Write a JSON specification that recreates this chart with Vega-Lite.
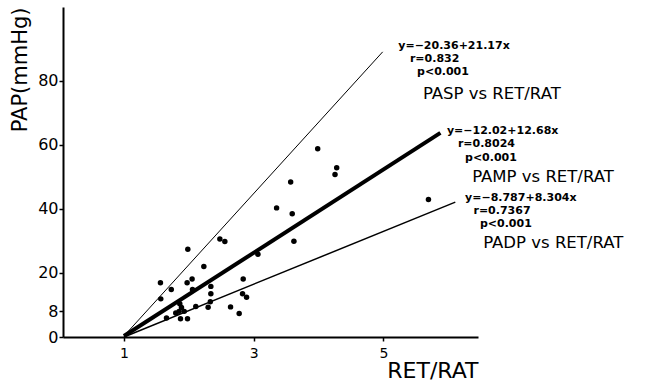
{
  "$schema": "https://vega.github.io/schema/vega-lite/v6.json",
  "autosize": {"type": "none"},
  "padding": {"left": 63, "top": 7, "right": 167, "bottom": 44},
  "width": 415,
  "height": 330,
  "background": "white",
  "config": {
    "view": {"stroke": null},
    "font": "DejaVu Sans",
    "axis": {
      "grid": false,
      "domainColor": "black",
      "domainWidth": 2,
      "tickColor": "black",
      "tickWidth": 1.5,
      "tickSize": 4,
      "labelColor": "black",
      "titleColor": "black",
      "labelFont": "DejaVu Sans",
      "titleFont": "DejaVu Sans",
      "titleFontWeight": "normal"
    }
  },
  "datasets": {
    "points": [
      {"ratio": 1.985, "pap": 27.4}, {"ratio": 2.479, "pap": 30.6}, {"ratio": 2.556, "pap": 29.8},
      {"ratio": 3.621, "pap": 29.9}, {"ratio": 2.232, "pap": 22.0}, {"ratio": 3.066, "pap": 25.8},
      {"ratio": 1.563, "pap": 16.9}, {"ratio": 1.730, "pap": 14.8}, {"ratio": 1.974, "pap": 16.9},
      {"ratio": 2.051, "pap": 18.1}, {"ratio": 2.057, "pap": 14.8}, {"ratio": 2.340, "pap": 15.8},
      {"ratio": 2.839, "pap": 18.1}, {"ratio": 1.568, "pap": 11.9}, {"ratio": 2.340, "pap": 13.5},
      {"ratio": 2.332, "pap": 11.0}, {"ratio": 2.829, "pap": 13.5}, {"ratio": 2.891, "pap": 12.4},
      {"ratio": 1.861, "pap": 10.4}, {"ratio": 1.887, "pap": 9.2}, {"ratio": 1.850, "pap": 8.0},
      {"ratio": 1.930, "pap": 8.0}, {"ratio": 1.799, "pap": 7.5}, {"ratio": 2.108, "pap": 9.5},
      {"ratio": 2.298, "pap": 9.3}, {"ratio": 2.644, "pap": 9.4}, {"ratio": 2.777, "pap": 7.3},
      {"ratio": 1.656, "pap": 5.9}, {"ratio": 1.872, "pap": 5.7}, {"ratio": 1.980, "pap": 5.7},
      {"ratio": 3.571, "pap": 48.4}, {"ratio": 3.354, "pap": 40.3}, {"ratio": 3.595, "pap": 38.5},
      {"ratio": 3.988, "pap": 58.75}, {"ratio": 4.281, "pap": 52.8}, {"ratio": 4.255, "pap": 50.7},
      {"ratio": 5.696, "pap": 42.9}
    ],
    "lines": [
      {"series": "PASP", "ratio": 1.0, "pap": 0.3}, {"series": "PASP", "ratio": 4.99, "pap": 89.0},
      {"series": "PAMP", "ratio": 1.0, "pap": 0.3}, {"series": "PAMP", "ratio": 5.88, "pap": 63.7},
      {"series": "PADP", "ratio": 1.0, "pap": 0.0}, {"series": "PADP", "ratio": 6.11, "pap": 42.1}
    ],
    "notes": [
      {"text": "y=−20.36+21.17x", "ratio": 5.23, "pap": 90.7, "kind": "stat"},
      {"text": "r=0.832", "ratio": 5.41, "pap": 86.7, "kind": "stat"},
      {"text": "p<0.001", "ratio": 5.52, "pap": 82.6, "kind": "stat"},
      {"text": "PASP vs RET/RAT", "ratio": 5.61, "pap": 75.7, "kind": "name"},
      {"text": "y=−12.02+12.68x", "ratio": 5.98, "pap": 64.2, "kind": "stat"},
      {"text": "r=0.8024", "ratio": 6.15, "pap": 60.1, "kind": "stat"},
      {"text": "p<0.001", "ratio": 6.26, "pap": 56.0, "kind": "stat"},
      {"text": "PAMP vs RET/RAT", "ratio": 6.37, "pap": 49.8, "kind": "name"},
      {"text": "y=−8.787+8.304x", "ratio": 6.26, "pap": 43.4, "kind": "stat"},
      {"text": "r=0.7367", "ratio": 6.39, "pap": 39.4, "kind": "stat"},
      {"text": "p<0.001", "ratio": 6.49, "pap": 35.3, "kind": "stat"},
      {"text": "PADP vs RET/RAT", "ratio": 6.54, "pap": 29.4, "kind": "name"}
    ]
  },
  "encoding": {
    "x": {
      "field": "ratio", "type": "quantitative",
      "scale": {"domain": [0.06, 6.46], "nice": false, "zero": false},
      "axis": {
        "values": [1, 3, 5], "format": "d", "title": "RET/RAT", "titleAnchor": "end",
        "titleFontSize": 22, "labelFontSize": 14, "labelPadding": 5, "titlePadding": 0
      }
    },
    "y": {
      "field": "pap", "type": "quantitative",
      "scale": {"domain": [0, 103], "nice": false},
      "axis": {
        "values": [0, 8, 20, 40, 60, 80], "format": "d", "title": "PAP(mmHg)", "titleAnchor": "end",
        "titleFontSize": 21, "labelFontSize": 16, "labelPadding": 1, "titlePadding": 7
      }
    }
  },
  "layer": [
    {
      "data": {"name": "lines"},
      "transform": [{"filter": "datum.series === 'PASP'"}],
      "mark": {"type": "line", "color": "black", "strokeWidth": 1, "clip": false}
    },
    {
      "data": {"name": "lines"},
      "transform": [{"filter": "datum.series === 'PAMP'"}],
      "mark": {"type": "line", "color": "black", "strokeWidth": 4, "clip": false}
    },
    {
      "data": {"name": "lines"},
      "transform": [{"filter": "datum.series === 'PADP'"}],
      "mark": {"type": "line", "color": "black", "strokeWidth": 1.5, "clip": false}
    },
    {
      "data": {"name": "points"},
      "mark": {"type": "circle", "color": "black", "opacity": 1, "size": 30}
    },
    {
      "data": {"name": "notes"},
      "transform": [{"filter": "datum.kind === 'stat'"}],
      "mark": {"type": "text", "align": "left", "baseline": "middle", "fontSize": 11, "fontWeight": "bold", "color": "black", "font": "DejaVu Sans"},
      "encoding": {"text": {"field": "text", "type": "nominal"}}
    },
    {
      "data": {"name": "notes"},
      "transform": [{"filter": "datum.kind === 'name'"}],
      "mark": {"type": "text", "align": "left", "baseline": "middle", "fontSize": 16.5, "color": "black", "font": "DejaVu Sans"},
      "encoding": {"text": {"field": "text", "type": "nominal"}}
    }
  ]
}
